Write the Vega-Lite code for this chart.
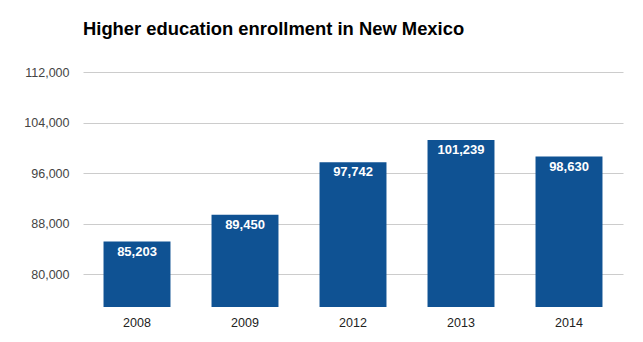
{
  "$schema": "https://vega.github.io/schema/vega-lite/v6.json",
  "autosize": {"type": "none"},
  "padding": {"left": 83, "top": 72, "right": 20, "bottom": 35},
  "width": 540,
  "height": 235,
  "background": "white",
  "title": {
    "text": "Higher education enrollment in New Mexico",
    "anchor": "start",
    "frame": "group",
    "font": "Liberation Sans",
    "fontSize": 18.4,
    "fontWeight": "bold",
    "color": "#000000",
    "dx": 0,
    "offset": 28
  },
  "data": {
    "values": [
      {"year": "2008", "enrollment": 85203},
      {"year": "2009", "enrollment": 89450},
      {"year": "2012", "enrollment": 97742},
      {"year": "2013", "enrollment": 101239},
      {"year": "2014", "enrollment": 98630}
    ]
  },
  "encoding": {
    "x": {
      "field": "year",
      "type": "nominal",
      "sort": null,
      "scale": {"paddingInner": 0.38, "paddingOuter": 0.19},
      "axis": {
        "title": null,
        "labelAngle": 0,
        "ticks": false,
        "domain": false,
        "labelPadding": 9,
        "labelFont": "Liberation Sans",
        "labelFontSize": 12.5,
        "labelColor": "#222222"
      }
    },
    "y": {
      "field": "enrollment",
      "type": "quantitative",
      "scale": {"domain": [74850, 112000], "nice": false, "zero": false},
      "axis": {
        "title": null,
        "values": [80000, 88000, 96000, 104000, 112000],
        "format": ",.0f",
        "ticks": false,
        "domain": false,
        "labelPadding": 14,
        "labelFont": "Liberation Sans",
        "labelFontSize": 12.5,
        "labelColor": "#444444",
        "gridColor": "#cccccc",
        "gridWidth": 1
      }
    }
  },
  "layer": [
    {
      "mark": {"type": "bar", "color": "#0f5293"},
      "encoding": {"y2": {"datum": 74850}}
    },
    {
      "mark": {
        "type": "text",
        "baseline": "top",
        "dy": 4,
        "color": "white",
        "font": "Liberation Sans",
        "fontSize": 13,
        "fontWeight": "bold"
      },
      "encoding": {
        "text": {"field": "enrollment", "type": "quantitative", "format": ","}
      }
    }
  ],
  "config": {"view": {"stroke": null}}
}
